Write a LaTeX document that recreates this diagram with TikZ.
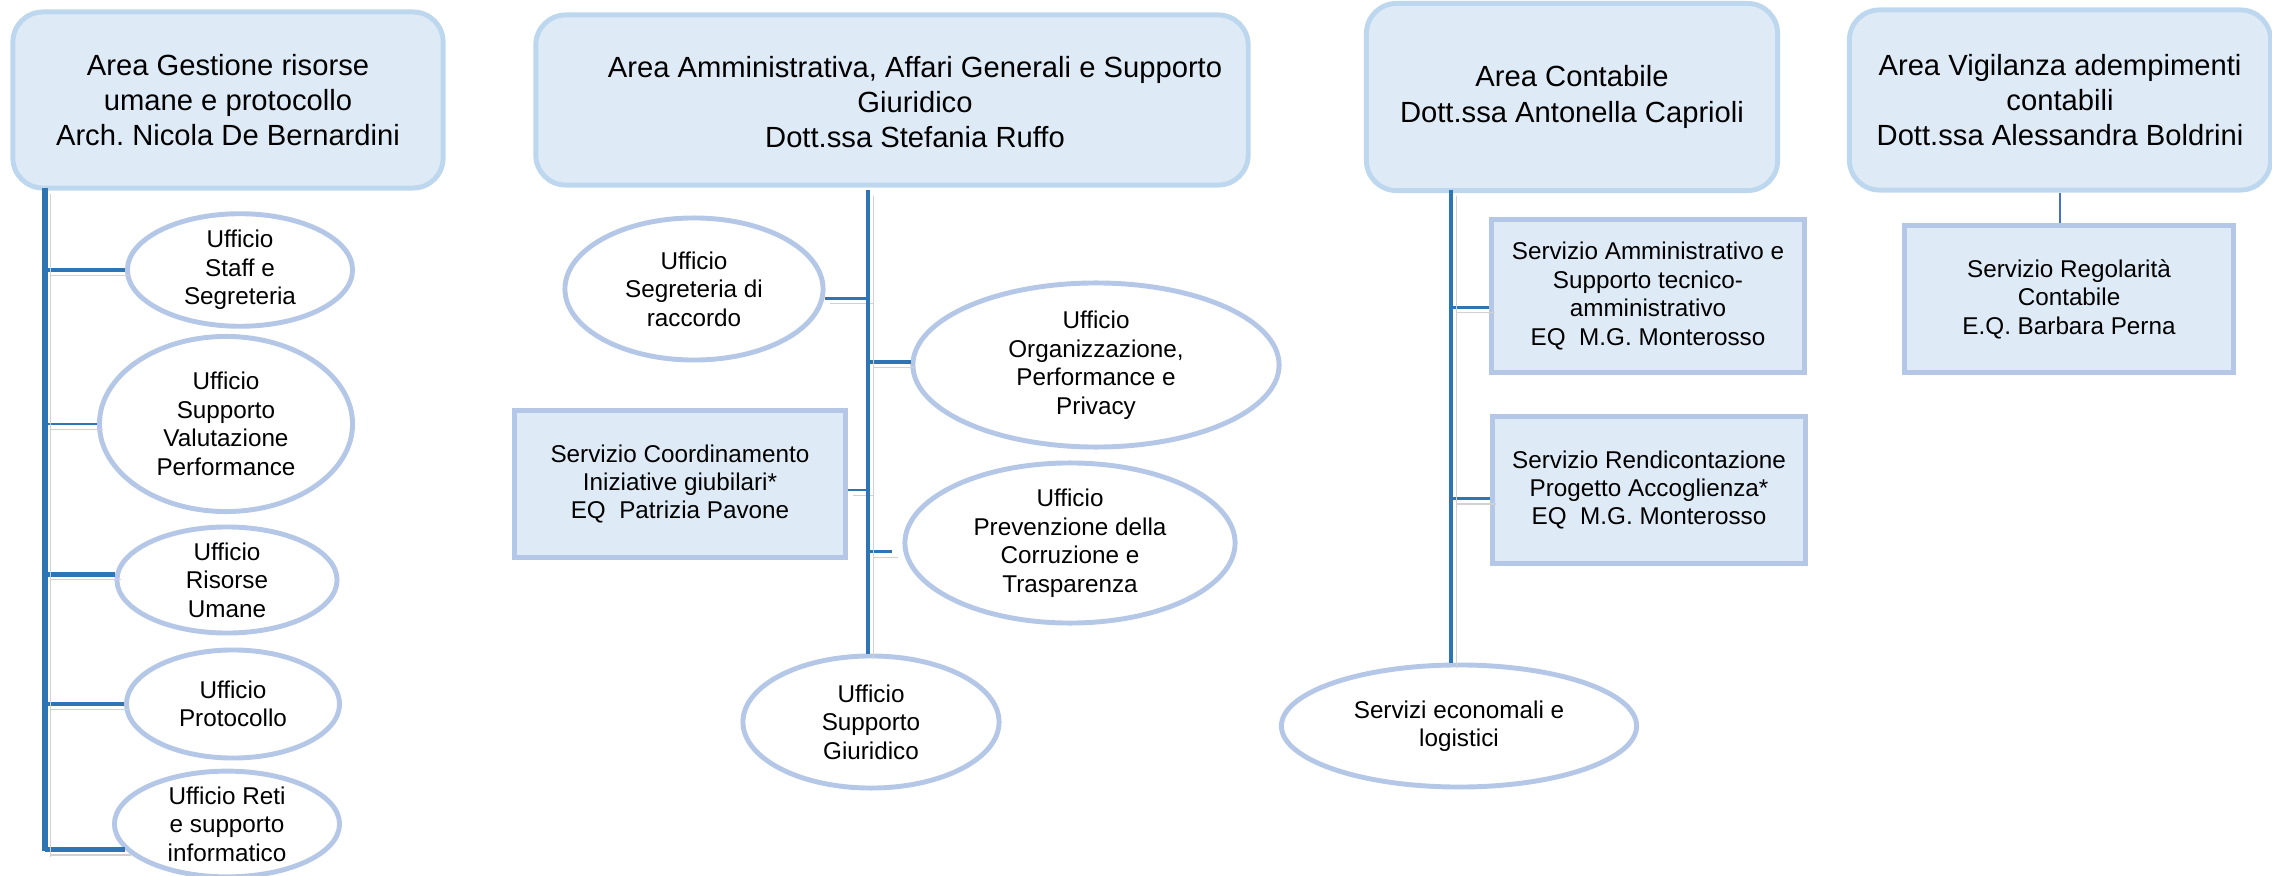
\documentclass[tikz,border=0pt]{standalone}
\usepackage{fontspec}
\setmainfont{Liberation Sans}
\usetikzlibrary{shapes.geometric}
\frenchspacing

\definecolor{boxfill}{HTML}{DEEBF7}
\definecolor{titleline}{HTML}{BDD7EE}
\definecolor{unitline}{HTML}{B4C7E7}
\definecolor{spineblue}{HTML}{2E75B6}
\definecolor{linkblue}{HTML}{4472C4}

\tikzset{
  titletext/.style={align=center, font=\fontsize{8.3}{10}\selectfont},
  areabox/.style={titletext, draw=titleline, fill=boxfill, line width=1.4pt, rounded corners=0.3cm},
  ufficio/.style={ellipse, draw=unitline, fill=white, line width=1.4pt, inner sep=0pt, align=center, font=\fontsize{6.9}{8.1}\selectfont},
  servizio/.style={rectangle, draw=unitline, fill=boxfill, line width=1.4pt, align=center, font=\fontsize{6.9}{8.1}\selectfont},
  shadowed/.style={preaction={draw=black!18, transform canvas={shift={(1.6pt,-1.6pt)}}}},
  spine/.style={draw=spineblue, line width=#1, shadowed}
}

\begin{document}
\begin{tikzpicture}[x=0.01cm,y=-0.01cm]
\useasboundingbox (0,0) rectangle (2272,876);

\node [areabox,minimum width=4.30cm,minimum height=1.76cm] (gest) at (228,100) {Area Gestione risorse\\umane e protocollo\\Arch. Nicola De Bernardini};
\node [areabox,minimum width=7.12cm,minimum height=1.70cm] (amm) at (892,100) {};
\node [titletext] (ammtxt) at (915,102) {Area Amministrativa, Affari Generali e Supporto\\Giuridico\\Dott.ssa Stefania Ruffo};
\node [areabox,minimum width=4.11cm,minimum height=1.87cm] (cont) at (1572,97) {Area Contabile\\Dott.ssa Antonella Caprioli};
\node [areabox,minimum width=4.21cm,minimum height=1.80cm] (vig) at (2060,100) {Area Vigilanza adempimenti\\contabili\\Dott.ssa Alessandra Boldrini};

\node [ufficio,minimum width=2.25cm,minimum height=1.10cm] (staff) at (240,270) {Ufficio\\Staff e\\Segreteria};
\node [ufficio,minimum width=2.53cm,minimum height=1.75cm] (valut) at (226,424) {Ufficio\\Supporto\\Valutazione\\Performance};
\node [ufficio,minimum width=2.20cm,minimum height=1.06cm] (risum) at (227,580) {Ufficio\\Risorse\\Umane};
\node [ufficio,minimum width=2.13cm,minimum height=1.08cm] (proto) at (233,704) {Ufficio\\Protocollo};
\node [ufficio,minimum width=2.25cm,minimum height=1.00cm] (reti) at (227,824) {Ufficio Reti\\e supporto\\informatico};

\node [ufficio,minimum width=2.58cm,minimum height=1.42cm] (racc) at (694,289) {Ufficio\\Segreteria di\\raccordo};
\node [ufficio,minimum width=3.66cm,minimum height=1.64cm] (org) at (1096,365) {Ufficio\\Organizzazione,\\Performance e\\Privacy};
\node [servizio,minimum width=3.30cm,minimum height=1.47cm] (coord) at (680,484) {Servizio Coordinamento\\Iniziative giubilari*\\EQ\ \ Patrizia Pavone};
\node [ufficio,minimum width=3.30cm,minimum height=1.60cm] (prev) at (1070,543) {Ufficio\\Prevenzione della\\Corruzione e\\Trasparenza};
\node [ufficio,minimum width=2.56cm,minimum height=1.32cm] (giur) at (871,722) {Ufficio\\Supporto\\Giuridico};

\node [servizio,minimum width=3.12cm,minimum height=1.53cm] (samm) at (1648,296) {Servizio Amministrativo e\\Supporto tecnico-\\amministrativo\\EQ\ \ M.G. Monterosso};
\node [servizio,minimum width=3.12cm,minimum height=1.46cm] (srend) at (1649,490) {Servizio Rendicontazione\\Progetto Accoglienza*\\EQ\ \ M.G. Monterosso};
\node [ufficio,minimum width=3.55cm,minimum height=1.22cm] (econ) at (1459,726) {Servizi economali e\\logistici};

\node [servizio,minimum width=3.29cm,minimum height=1.46cm] (sreg) at (2069,299) {Servizio Regolarità\\Contabile\\E.Q. Barbara Perna};

\coordinate (g0) at (45,188);
\coordinate (g1) at (45,851);
\coordinate (a0) at (868,190);
\coordinate (c0) at (1451,190);

\draw [spine=1.4pt] (g0 |- staff.west) -- (staff.west);
\draw [spine=0.85pt] (g0 |- valut.west) -- (valut.west);
\draw [spine=1.4pt] (g0 |- risum.177) -- (risum.177);
\draw [spine=1.4pt] (g0 |- proto.west) -- (proto.west);
\draw [spine=1.4pt] (g0 |- reti.194) -- (reti.194);
\draw [spine=1.7pt] (g0) -- (g1);

\draw [spine=0.85pt] (racc.-4) -- (racc.-4 -| a0);
\draw [spine=1.15pt] (a0 |- org.179) -- (org.179);
\draw [spine=0.7pt] (coord.-2) -- (coord.-2 -| a0);
\draw [spine=0.7pt,shorten >=0.11cm] (a0 |- prev.183) -- (prev.183);
\draw [spine=1.3pt] (a0) -- (a0 |- giur.north);

\draw [spine=0.85pt] (c0 |- samm.184) -- (samm.184);
\draw [spine=0.85pt] (c0 |- srend.183) -- (srend.183);
\draw [spine=1.4pt] (c0) -- (c0 |- econ.north);

\draw [linkblue,line width=0.6pt] (vig.south) -- (vig.south |- sreg.north);

\end{tikzpicture}
\end{document}
